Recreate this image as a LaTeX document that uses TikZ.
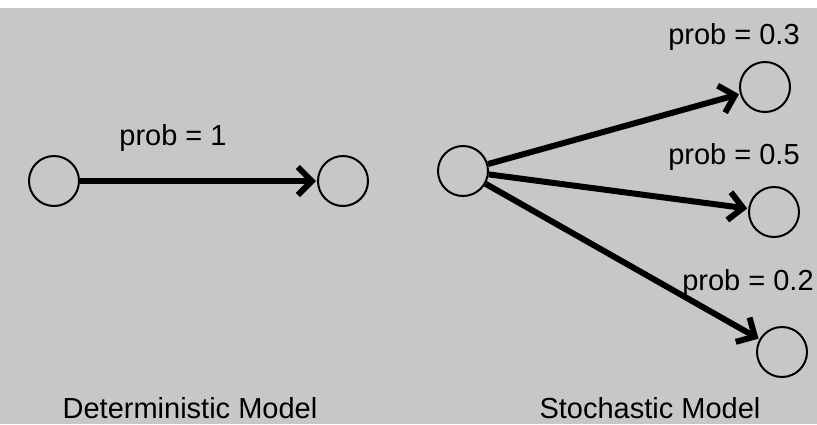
\documentclass[tikz,border=0pt]{standalone}
\usepackage{fontspec}
\setmainfont{Liberation Sans}
\usetikzlibrary{automata, arrows.meta}

\begin{document}
\begin{tikzpicture}[x=1pt, y=-1pt, shorten >=1pt,
        every state/.style={line width=2pt, minimum size=50pt, inner sep=0pt},
        trans/.style={line width=6pt, -{Straight Barb[length=14pt, width=28pt, line width=6pt]}},
        lbl/.style={font=\fontsize{29}{34}\selectfont}]
        \useasboundingbox (0,0) rectangle (817,424);
        \fill[black!22] (0,8) rectangle (817,424);

        % deterministic
        \node[state] (det1) at (54,181) {};
        \node[state] (det2) at (343,181) {};
        \node[lbl] (p1) at (173,138) {prob = 1};

        % stochastic
        \node[state] (sto0) at (463,171) {};
        \node[state] (sto1) at (765,87) {};
        \node[state] (sto2) at (774,212) {};
        \node[state] (sto3) at (782,352) {};
        \node[lbl] (p3) at (734,37) {prob = 0.3};
        \node[lbl] (p5) at (734,157) {prob = 0.5};
        \node[lbl] (p2) at (748,283) {prob = 0.2};

        \node[lbl] (detname) at (190,408) {Deterministic Model};
        \node[lbl] (stoname) at (650,408) {Stochastic Model};

        \path[trans]
        (det1) edge (det2)
        (sto0) edge (sto1)
        (sto0) edge (sto2)
        (sto0) edge (sto3);

    \end{tikzpicture}
\end{document}
